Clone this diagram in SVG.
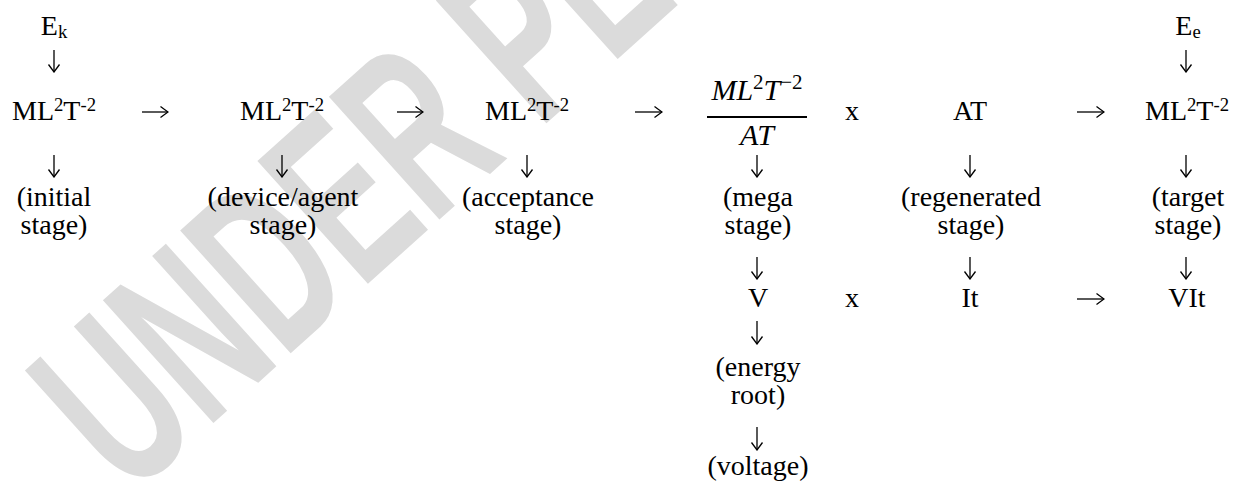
<svg xmlns="http://www.w3.org/2000/svg" width="1237" height="482" viewBox="0 0 1237 482">
<defs>
<style>
text{font-family:"Liberation Serif","Times New Roman",serif;font-size:28px;fill:#000;text-anchor:middle}
.sup{font-size:18.7px}
.it{font-style:italic;font-size:30px}
.ms{font-style:normal;font-size:21px}
.wm{font-family:"Liberation Sans","Open Sans",sans-serif;font-size:240px;fill:#dbdbdb;text-anchor:start;font-weight:bold}
.c line{stroke:#000;stroke-width:1.3;fill:none;marker-end:url(#ah)}
</style>
<marker id="ah" viewBox="-9 -7 10 14" refX="0" refY="0" markerWidth="10" markerHeight="14" markerUnits="userSpaceOnUse" orient="auto">
<path d="M-7.5,-5.5 L0,0 L-7.5,5.5" fill="none" stroke="#000" stroke-width="1.3"/>
</marker>
</defs>
<rect width="1237" height="482" fill="#fff"/>
<g id="watermark">
<text class="wm" transform="translate(129,499) rotate(-42) scale(0.6,1)">UNDER PEER REVIEW</text>
</g>

<g id="ek"><text x="54" y="35">E<tspan class="sup" dy="3">k</tspan></text></g>
<g id="ee"><text x="1188" y="35">E<tspan class="sup" dy="3">e</tspan></text></g>

<g id="n1">
<text x="54" y="120">ML<tspan class="sup" dy="-9">2</tspan><tspan dy="9">T</tspan><tspan class="sup" dy="-9">-2</tspan></text>
<text x="54" y="206">(initial</text>
<text x="54" y="234">stage)</text>
</g>
<g id="n2">
<text x="282" y="120">ML<tspan class="sup" dy="-9">2</tspan><tspan dy="9">T</tspan><tspan class="sup" dy="-9">-2</tspan></text>
<text x="283" y="206">(device/agent</text>
<text x="283" y="234">stage)</text>
</g>
<g id="n3">
<text x="527" y="120">ML<tspan class="sup" dy="-9">2</tspan><tspan dy="9">T</tspan><tspan class="sup" dy="-9">-2</tspan></text>
<text x="528" y="206">(acceptance</text>
<text x="528" y="234">stage)</text>
</g>
<g id="n4">
<text x="757" y="100" class="it">ML<tspan class="ms" dy="-11">2</tspan><tspan dy="11">T</tspan><tspan class="ms" dy="-11">−2</tspan></text>
<rect x="707" y="116" width="100" height="2" fill="#000"/>
<text x="757" y="145" class="it">AT</text>
<text x="758" y="206">(mega</text>
<text x="758" y="234">stage)</text>
</g>
<g id="op1"><text x="852" y="120">x</text></g>
<g id="n5">
<text x="970" y="120">AT</text>
<text x="971" y="206">(regenerated</text>
<text x="971" y="234">stage)</text>
</g>
<g id="n6">
<text x="1187" y="120">ML<tspan class="sup" dy="-9">2</tspan><tspan dy="9">T</tspan><tspan class="sup" dy="-9">-2</tspan></text>
<text x="1188" y="206">(target</text>
<text x="1188" y="234">stage)</text>
</g>
<g id="v"><text x="758" y="307">V</text></g>
<g id="op2"><text x="852" y="307">x</text></g>
<g id="it"><text x="970" y="307">It</text></g>
<g id="vit"><text x="1187" y="307">VIt</text></g>
<g id="energy">
<text x="758" y="376">(energy</text>
<text x="758" y="404">root)</text>
</g>
<g id="voltage"><text x="758" y="475">(voltage)</text></g>

<g id="connectors" class="c">
<line x1="54" y1="50" x2="54" y2="72"/>
<line x1="1186" y1="50" x2="1186" y2="72"/>
<line x1="54" y1="155" x2="54" y2="177"/>
<line x1="282" y1="155" x2="282" y2="177"/>
<line x1="527" y1="155" x2="527" y2="177"/>
<line x1="757" y1="155" x2="757" y2="177"/>
<line x1="970" y1="155" x2="970" y2="177"/>
<line x1="1186" y1="155" x2="1186" y2="177"/>
<line x1="757" y1="257" x2="757" y2="279"/>
<line x1="970" y1="257" x2="970" y2="279"/>
<line x1="1186" y1="257" x2="1186" y2="279"/>
<line x1="757" y1="321" x2="757" y2="344"/>
<line x1="757" y1="427" x2="757" y2="450"/>
<line x1="142" y1="112" x2="168" y2="112"/>
<line x1="397" y1="112" x2="423" y2="112"/>
<line x1="635" y1="112" x2="662" y2="112"/>
<line x1="1077" y1="112" x2="1104" y2="112"/>
<line x1="1077" y1="299" x2="1104" y2="299"/>
</g>
</svg>
